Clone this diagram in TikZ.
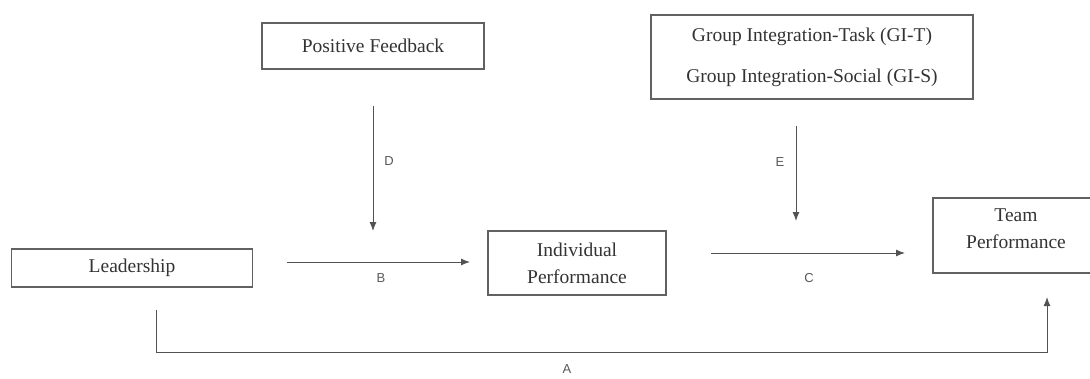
\documentclass[tikz,border=0pt]{standalone}
\usepackage{fontspec}
\setmainfont{Liberation Serif}
\newfontfamily\lblfont{Liberation Sans}
\usetikzlibrary{arrows.meta}

\begin{document}
\begin{tikzpicture}
  [x=1pt,y=-1pt,
   box/.style={draw=black!62,line width=1.2pt,rectangle,inner sep=0pt,align=center,
     text=black!80,font=\fontsize{19.5}{22}\selectfont},
   arr/.style={draw=black!68,line width=1pt,-{Latex[length=9pt,width=7pt]}},
   lbl/.style={text=black!65,font=\lblfont\fontsize{13}{15}\selectfont,inner sep=0pt}]
  \useasboundingbox (0,0) rectangle (1090,378);

  \node [box,minimum width=222pt,minimum height=46pt] (pf) at (373,46) {Positive Feedback};
  \node [box,minimum width=322pt,minimum height=84pt] (gi) at (812,57)
    {Group Integration-Task (GI-T)\\[19pt] Group Integration-Social (GI-S)};
  \node [box,minimum width=241pt,minimum height=38pt] (lead) at (132,268) {Leadership};
  \node [box,minimum width=178pt,minimum height=64pt] (indiv) at (577,263)
    {Individual\\[5pt] Performance};
  \node [box,minimum width=166pt,minimum height=75pt] (team) at (1016,235.5)
    {Team\\[5pt] Performance\\[-9pt]~};

  \coordinate (b0) at (287,262);
  \coordinate (b1) at (470,262);
  \coordinate (c0) at (711,253);
  \coordinate (c1) at (905,253);
  \coordinate (d0) at (373,106);
  \coordinate (d1) at (373,231);
  \coordinate (e0) at (796,126);
  \coordinate (e1) at (796,221);
  \coordinate (a0) at (156,310);
  \coordinate (a1) at (1047,297);

  \foreach \from/\to in {b0/b1,c0/c1,d0/d1,e0/e1}
    \draw [arr] (\from) -- (\to);
  \draw [arr] (a0) -- ++(0,42) -| (a1);

  \node [lbl] (labB) at (381,278) {B};
  \node [lbl] (labC) at (809,278) {C};
  \node [lbl] (labD) at (389,161) {D};
  \node [lbl] (labE) at (780,162) {E};
  \node [lbl] (labA) at (567,369) {A};

\end{tikzpicture}
\end{document}
